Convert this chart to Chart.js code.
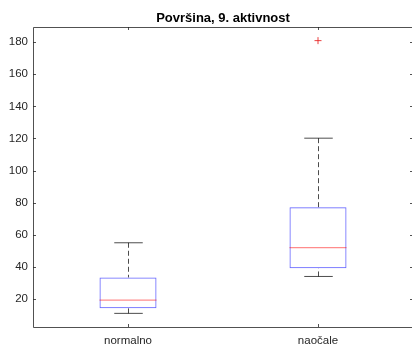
<!DOCTYPE html>
<html>
<head>
<meta charset="utf-8">
<script src="https://cdn.jsdelivr.net/npm/chart.js@4"></script>
<style>
  html, body { margin: 0; padding: 0; background: #fff; }
  #wrap { width: 412px; height: 349px; overflow: hidden; }
</style>
</head>
<body>
<div id="wrap"><canvas id="chart" width="418" height="349"></canvas></div>
<script>
const categories = ["normalno", "naočale"];
const whiskerLow = [11, 34];
const q1 = [14.2, 39.1];
const median = [19.2, 52];
const q3 = [33.4, 77.1];
const whiskerHigh = [55, 120.2];
const outliers = [[], [181]];
const yTicks = [20, 40, 60, 80, 100, 120, 140, 160, 180];
const yMin = 2.5, yMax = 189.5;
const titleText = "Površina, 9. aktivnost";

const FONT = "'Liberation Sans', Arial, Helvetica, sans-serif";
const AXIS = "rgba(38,38,38,0.8)";

// whiskers, caps, medians, the axes box with inward ticks and the title
const boxPlotParts = {
  id: "boxPlotParts",
  afterDatasetsDraw(chart) {
    const ctx = chart.ctx;
    const x = chart.scales.x, y = chart.scales.y;
    const bars = chart.getDatasetMeta(0).data;
    ctx.save();
    bars.forEach((bar, i) => {
      const cx = Math.round(bar.x) + 0.5;
      const half = bar.width / 2;
      const cap = half / 2;
      const yHi = y.getPixelForValue(whiskerHigh[i]);
      const yLo = y.getPixelForValue(whiskerLow[i]);
      const yQ3 = y.getPixelForValue(q3[i]);
      const yQ1 = y.getPixelForValue(q1[i]);
      ctx.strokeStyle = "rgba(0,0,0,0.7)";
      ctx.lineWidth = 1;
      ctx.setLineDash([5, 3]);
      ctx.beginPath();
      ctx.moveTo(cx, yHi); ctx.lineTo(cx, yQ3);
      ctx.moveTo(cx, yLo); ctx.lineTo(cx, yQ1);
      ctx.stroke();
      ctx.setLineDash([]);
      ctx.beginPath();
      ctx.moveTo(cx - cap, yHi); ctx.lineTo(cx + cap, yHi);
      ctx.moveTo(cx - cap, yLo); ctx.lineTo(cx + cap, yLo);
      ctx.stroke();
      const ym = y.getPixelForValue(median[i]);
      ctx.strokeStyle = "rgba(255,0,0,0.45)";
      ctx.lineWidth = 1.2;
      ctx.beginPath();
      ctx.moveTo(bar.x - half, ym); ctx.lineTo(bar.x + half, ym);
      ctx.stroke();
    });

    const a = chart.chartArea;
    ctx.strokeStyle = AXIS;
    ctx.lineWidth = 1;
    ctx.beginPath();
    ctx.rect(a.left + 0.5, a.top + 0.5, a.right - a.left, a.bottom - a.top);
    ctx.stroke();
    ctx.beginPath();
    yTicks.forEach(v => {
      const py = Math.round(y.getPixelForValue(v)) + 0.5;
      ctx.moveTo(a.left, py); ctx.lineTo(a.left + 3, py);
      ctx.moveTo(a.right, py); ctx.lineTo(a.right - 3, py);
    });
    categories.forEach((c, i) => {
      const px = Math.round(x.getPixelForValue(i)) + 0.5;
      ctx.moveTo(px, a.bottom); ctx.lineTo(px, a.bottom - 3);
      ctx.moveTo(px, a.top); ctx.lineTo(px, a.top + 3);
    });
    ctx.stroke();

    // title centred over the plot box, not the whole canvas
    ctx.fillStyle = "#000";
    ctx.font = "bold 13px " + FONT;
    ctx.textAlign = "center";
    ctx.textBaseline = "alphabetic";
    ctx.fillText(titleText, (a.left + a.right) / 2, a.top - 5);
    ctx.restore();
  }
};

new Chart(document.getElementById("chart"), {
  data: {
    labels: categories,
    datasets: [{
      type: "bar",
      data: categories.map((c, i) => [q1[i], q3[i]]),
      backgroundColor: "rgba(0,0,0,0)",
      borderColor: "rgba(0,0,255,0.62)",
      borderWidth: 1,
      borderSkipped: false,
      barPercentage: 0.3,
      categoryPercentage: 1
    }, {
      type: "line",
      showLine: false,
      data: categories.flatMap((c, i) => outliers[i].map(v => ({ x: c, y: v }))),
      pointStyle: "cross",
      pointRadius: 3.5,
      borderColor: "rgba(230,30,30,0.85)",
      borderWidth: 1
    }]
  },
  options: {
    responsive: false,
    animation: false,
    devicePixelRatio: 1,
    layout: { padding: { left: 0, right: 4, top: 27, bottom: 0 } },
    plugins: {
      legend: { display: false },
      tooltip: { enabled: false },
      title: { display: false }
    },
    scales: {
      x: {
        offset: true,
        grid: { display: false, drawTicks: false },
        border: { display: false },
        ticks: { color: "#262626", font: { family: FONT, size: 11.5 }, padding: 7 },
        afterFit(s) { s.height = 22; }
      },
      y: {
        min: yMin,
        max: yMax,
        grid: { display: false, drawTicks: false },
        border: { display: false },
        ticks: { color: "#262626", font: { family: FONT, size: 11.5 }, padding: 5 },
        afterBuildTicks(s) { s.ticks = yTicks.map(v => ({ value: v })); },
        afterFit(s) { s.width = 33; }
      }
    }
  },
  plugins: [boxPlotParts]
});
</script>
</body>
</html>
